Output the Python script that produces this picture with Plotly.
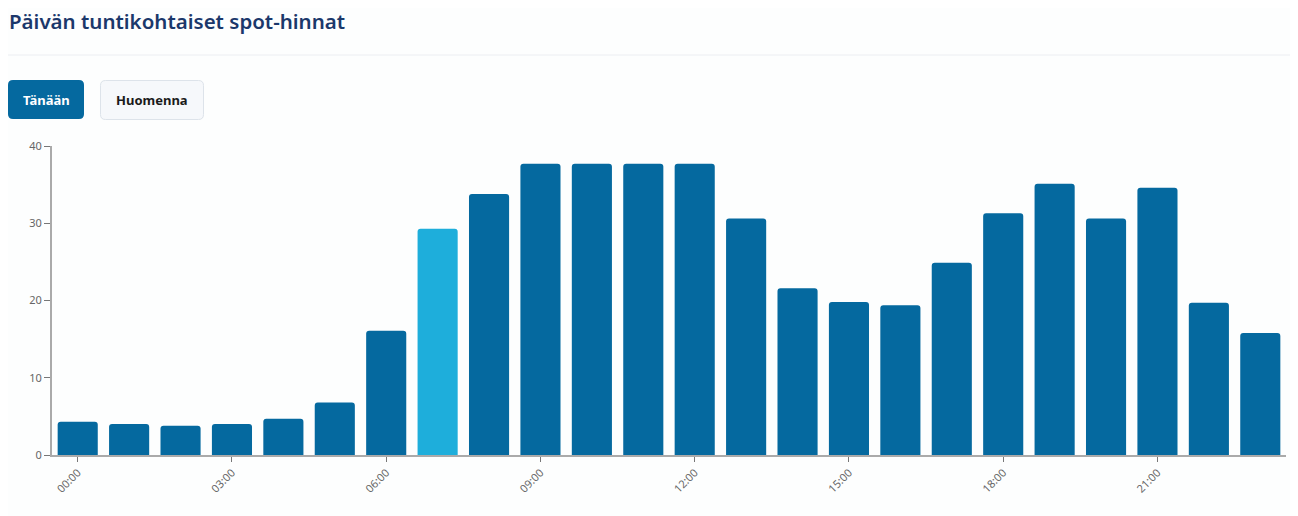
import plotly.graph_objects as go

hours = [f"{h:02d}:00" for h in range(24)]
prices = [4.3, 4.0, 3.8, 4.0, 4.7, 6.8, 16.1, 29.3, 33.8, 37.7, 37.7, 37.7,
          37.7, 30.6, 21.6, 19.8, 19.4, 24.9, 31.3, 35.1, 30.6, 34.6, 19.7, 15.8]
current_hour = "07:00"
tick_labels = [h for i, h in enumerate(hours) if i % 3 == 0]
title_text = "Päivän tuntikohtaiset spot-hinnat"
button_labels = ["Tänään", "Huomenna"]

OFF = 8  # page body margin
W, H = 1298 - OFF, 516 - OFF
L, R, T, B = 52 - OFF, 12, 146 - OFF, 61
PW, PH = W - L - R, H - T - B

# helpers take reference-page pixel coordinates
def px(x):
    return (x - OFF - L) / PW

def py(y):
    return (H - B - (y - OFF)) / PH

def rrect(x0, y0, x1, y1, r):
    pts = [
        ("M", x0 + r, y0), ("L", x1 - r, y0), ("Q", x1, y0, x1, y0 + r),
        ("L", x1, y1 - r), ("Q", x1, y1, x1 - r, y1), ("L", x0 + r, y1),
        ("Q", x0, y1, x0, y1 - r), ("L", x0, y0 + r), ("Q", x0, y0, x0 + r, y0),
    ]
    s = ""
    for p in pts:
        cmd = p[0]
        coords = p[1:]
        parts = []
        for i in range(0, len(coords), 2):
            parts.append(f"{px(coords[i]):.6f},{py(coords[i+1]):.6f}")
        s += cmd + " " + " ".join(parts) + " "
    return s + "Z"

DARK = "#05699f"
LIGHT = "#1eaedb"
colors = [LIGHT if h == current_hour else DARK for h in hours]

fig = go.Figure(go.Bar(
    x=hours, y=prices, marker=dict(color=colors, line=dict(width=0)),
    hovertemplate="%{x}: %{y:.2f} c/kWh<extra></extra>",
))

shapes = [
    dict(type="line", xref="paper", yref="paper", x0=px(OFF), x1=px(1298), y0=py(55), y1=py(55),
         line=dict(color="#eceef2", width=1)),
    dict(type="path", xref="paper", yref="paper", path=rrect(8, 80, 84, 119, 5),
         fillcolor=DARK, line=dict(width=0)),
    dict(type="path", xref="paper", yref="paper", path=rrect(100.5, 80.5, 203.5, 119.5, 5),
         fillcolor="#f6f8fb", line=dict(color="#dde3ea", width=1)),
]

annotations = [
    dict(text=title_text, xref="paper", yref="paper", x=px(7), y=py(21),
         xanchor="left", yanchor="middle", showarrow=False,
         font=dict(family="Noto Sans", size=20.5, weight=600, color="#1b386b")),
    dict(text=f"<b>{button_labels[0]}</b>", xref="paper", yref="paper", x=px(46), y=py(100),
         xanchor="center", yanchor="middle", showarrow=False,
         font=dict(family="Noto Sans", size=13, color="#ffffff")),
    dict(text=f"<b>{button_labels[1]}</b>", xref="paper", yref="paper", x=px(152), y=py(100),
         xanchor="center", yanchor="middle", showarrow=False,
         font=dict(family="Noto Sans", size=13, color="#1a1a1a")),
]

fig.update_layout(
    width=W, height=H,
    margin=dict(l=L, r=R, t=T, b=B, autoexpand=False),
    paper_bgcolor="#fdfefe", plot_bgcolor="#fdfefe",
    bargap=0.22, barcornerradius=3,
    showlegend=False,
    shapes=shapes, annotations=annotations,
    font=dict(family="Noto Sans", color="#666666"),
)
fig.update_xaxes(
    type="category", tickmode="array", tickvals=tick_labels, ticktext=tick_labels,
    tickangle=-45, ticks="outside", ticklen=5, tickcolor="#777777",
    showline=True, linecolor="#aaaaaa", linewidth=2, showgrid=False,
    tickfont=dict(size=11, color="#666666"), fixedrange=True,
)
fig.update_yaxes(
    range=[0, 40], tickvals=[0, 10, 20, 30, 40], ticks="outside", ticklen=6,
    tickcolor="#777777", showline=True, linecolor="#aaaaaa", linewidth=2,
    showgrid=False, zeroline=False, tickfont=dict(size=11, color="#666666"),
    fixedrange=True,
)

fig.write_html("out.html", config={"displayModeBar": False})
